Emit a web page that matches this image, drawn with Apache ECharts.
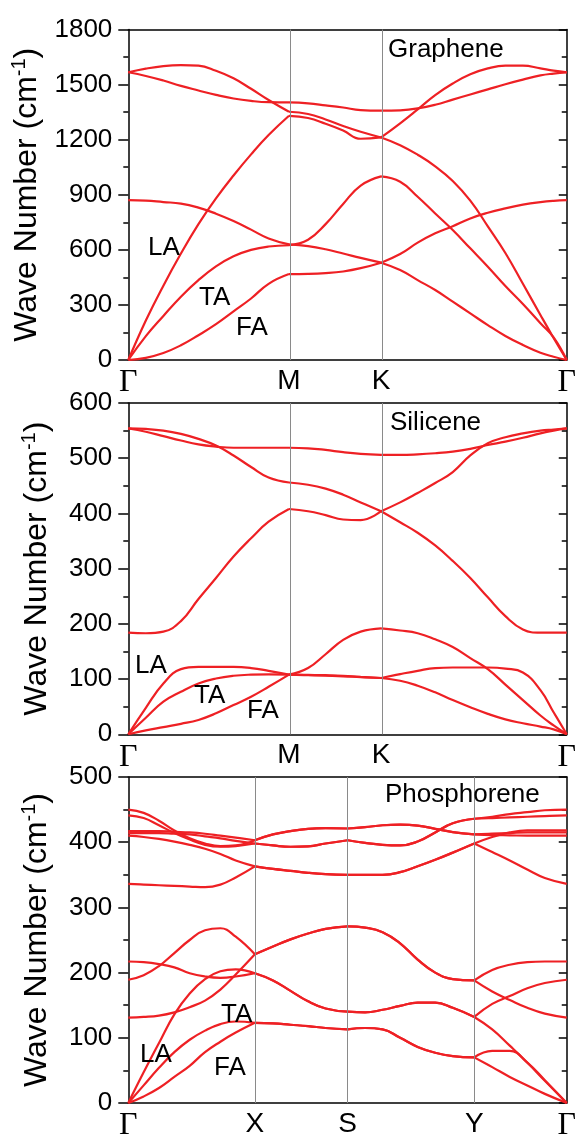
<!DOCTYPE html>
<html>
<head>
<meta charset="utf-8">
<script src="https://cdn.jsdelivr.net/npm/echarts@6/dist/echarts.min.js"></script>
<style>
  html, body { margin: 0; padding: 0; background: #fff; }
  #chart { width: 579px; height: 1142px; }
</style>
</head>
<body>
<div id="chart"></div>
<script>
// high symmetry points (fraction of path) and their labels
const hexKx = [0, 0.3665, 0.5766, 1];
const hexKLabels = ['Γ', 'M', 'K', 'Γ'];
const phosKx = [0, 0.2887, 0.5004, 0.789, 1];
const phosKLabels = ['Γ', 'X', 'S', 'Y', 'Γ'];

// sample positions along the path
const hexX = [0, 0.04, 0.08, 0.12, 0.16, 0.20, 0.24, 0.28, 0.32, 0.3665,
  0.41, 0.45, 0.49, 0.53, 0.5766,
  0.62, 0.66, 0.70, 0.74, 0.78, 0.82, 0.86, 0.90, 0.94, 0.97, 1];
const hexBreaks = [0, 9, 14, 25];
const phosX = [0, 0.035, 0.07, 0.105, 0.14, 0.175, 0.21, 0.245, 0.2887,
  0.33, 0.37, 0.41, 0.45, 0.5004,
  0.54, 0.58, 0.62, 0.66, 0.70, 0.74, 0.789,
  0.83, 0.87, 0.91, 0.95, 1];
const phosBreaks = [0, 8, 13, 20, 25];

// graphene bands (cm-1)
const grapheneFA = [0, 12, 38, 80, 135, 195, 265, 335, 415, 468,
  469, 473, 482, 500, 530,
  577, 639, 690, 729, 771, 802, 826, 846, 860, 867, 871];
const grapheneTA = [0, 130, 240, 345, 435, 510, 565, 600, 618, 625,
  655, 740, 850, 950, 1000,
  971, 889, 798, 708, 608, 508, 403, 305, 200, 123, 0];
const grapheneLA = [0, 215, 405, 580, 740, 880, 1005, 1120, 1225, 1330,
  1318, 1287, 1250, 1205, 1212,
  1289, 1365, 1443, 1506, 1556, 1588, 1603, 1603, 1588, 1576, 1567];
const grapheneZO = [871, 868, 860, 852, 830, 797, 757, 710, 662, 630,
  620, 603, 580, 556, 530,
  490, 435, 381, 318, 254, 190, 131, 82, 40, 18, 0];
const grapheneTO = [1567, 1587, 1601, 1606, 1603, 1575, 1534, 1477, 1416, 1352,
  1340, 1310, 1274, 1243, 1212,
  1170, 1118, 1055, 975, 868, 728, 583, 415, 245, 120, 0];
const grapheneLO = [1567, 1547, 1522, 1493, 1468, 1444, 1424, 1411, 1404, 1403,
  1398, 1387, 1375, 1361, 1358,
  1360, 1370, 1390, 1418, 1446, 1474, 1502, 1527, 1550, 1560, 1567];

// silicene bands (cm-1)
const siliceneFA = [0, 7, 13, 19, 26, 38, 53, 68, 86, 108,
  120, 145, 171, 186, 192,
  188, 183, 172, 158, 138, 118, 90, 62, 34, 16, 0];
const siliceneTA = [0, 30, 59, 77, 92, 101, 106, 108, 108.5, 108,
  107.5, 107, 106, 104, 102,
  97, 88, 76, 62, 49, 37, 27, 20, 14, 9, 0];
const siliceneLA = [0, 48, 92, 118, 122, 122, 122, 120, 115, 108,
  107, 106, 105, 103.5, 102,
  109, 115, 120, 121, 121, 121, 119, 112, 80, 40, 0];
const siliceneZO = [184, 183, 186, 205, 245, 283, 322, 355, 385, 408,
  404, 397, 389, 388, 404,
  420, 437, 455, 475, 505, 527, 538, 545, 550, 552, 554];
const siliceneTO = [554, 553, 550, 544, 535, 523, 505, 484, 465, 456,
  452, 445, 434, 420, 404,
  384, 365, 342, 314, 283, 248, 214, 190, 184, 184, 184];
const siliceneLO = [554, 548, 540, 532, 525, 521, 519, 519, 519, 519,
  518, 515, 511, 508, 506,
  506, 507, 509, 512, 517, 524, 530, 537, 545, 550, 554];

// phosphorene bands (cm-1)
const phosFA = [0, 10, 23, 40, 57, 78, 94, 108, 123,
  122, 120, 118, 115, 113,
  115, 113, 100, 86, 77, 72, 70,
  55, 40, 27, 14, 0];
const phosTA = [0, 27, 54, 78, 97, 111, 121, 125, 123,
  122, 120, 118, 115, 113,
  115, 113, 100, 86, 77, 72, 70,
  80, 80, 62, 35, 0];
const phosLA = [0, 47, 92, 136, 168, 190, 202, 205, 199,
  188, 172, 156, 145, 140,
  139, 143, 149, 154, 154, 146, 132,
  113, 88, 62, 34, 0];
const phosO1 = [217, 216, 213, 208, 199, 194, 192, 194, 199,
  188, 172, 156, 145, 140,
  139, 143, 149, 154, 154, 146, 132,
  152, 164, 176, 184, 189];
const phosO2 = [189, 196, 210, 230, 250, 265, 268, 255, 228,
  240, 251, 260, 267, 271,
  269, 262, 245, 220, 200, 190, 188,
  204, 212, 216, 217, 217];
const phosO3 = [131, 132, 134, 139, 147, 157, 174, 197, 228,
  240, 251, 260, 267, 271,
  269, 262, 245, 220, 200, 190, 188,
  171, 158, 146, 137, 131];
const phosO4 = [336, 335, 334, 333, 332, 331, 335, 346, 363,
  359, 356, 353, 351, 350,
  350, 350, 354, 363, 373, 384, 398,
  385, 372, 358, 345, 336];
const phosO5 = [410, 408, 405, 401, 396, 390, 382, 372, 363,
  359, 356, 353, 351, 350,
  350, 350, 354, 363, 373, 384, 398,
  408, 415, 418, 418, 418];
const phosO6 = [414, 414, 414, 413, 412, 409, 406, 402, 398,
  395, 393, 393.5, 398, 403,
  399, 396, 395, 401, 415, 429, 436,
  437, 438, 439, 440, 441];
const phosO7 = [441, 437, 426, 414, 404, 396, 393, 394, 398,
  395, 393, 393.5, 398, 403,
  399, 396, 395, 401, 415, 429, 436,
  439, 443, 446, 449, 450];
const phosO8 = [417, 417, 417, 416, 415, 413, 410, 407, 403,
  412, 417, 420.5, 421.5, 421,
  423, 426, 427, 425.5, 420.5, 415.5, 412,
  413, 414, 415, 415, 415];
const phosO9 = [450, 445, 433, 418, 406, 398, 394, 395, 403,
  412, 417, 420.5, 421.5, 421,
  423, 426, 427, 425.5, 420.5, 415.5, 412,
  411, 410.5, 410, 410, 410];

// y axis ranges
const yMax = [1800, 600, 500];
const yStep = [300, 100, 100];

const red = '#ee2024';
const font = 'Liberation Sans';

function bandSeries(xs, bands, breaks, g) {
  const out = [];
  bands.forEach(b => {
    for (let s = 0; s < breaks.length - 1; s++) {
      const data = [];
      for (let i = breaks[s]; i <= breaks[s + 1]; i++) data.push([xs[i], b[i]]);
      out.push({
        type: 'line', xAxisIndex: g * 2, yAxisIndex: g * 2, data: data,
        smooth: 0.45, showSymbol: false, silent: true, z: 3,
        lineStyle: { color: red, width: 2.2 }
      });
    }
  });
  return out;
}

function guideSeries(kx, g) {
  return {
    type: 'line', xAxisIndex: g * 2, yAxisIndex: g * 2, data: [[0, 0]],
    showSymbol: false, silent: true, z: 1, lineStyle: { opacity: 0 },
    markLine: {
      silent: true, symbol: ['none', 'none'], label: { show: false },
      lineStyle: { color: '#8a8a8a', width: 1, type: 'solid' },
      data: kx.slice(1, -1).map(v => ({ xAxis: v }))
    }
  };
}

const tops = [29.5, 403, 777];
const heights = [330.5, 331.3, 332.3];
const grids = tops.map((t, i) => ({ left: 128.3, width: 441.7, top: t, height: heights[i] }));

const frameLine = { onZero: false, lineStyle: { color: '#000', width: 1.5 } };
const xAxes = [];
const yAxes = [];
[hexKx, hexKx, phosKx].forEach((kx, g) => {
  const labels = g === 2 ? phosKLabels : hexKLabels;
  xAxes.push({
    gridIndex: g, type: 'value', min: 0, max: 1, position: 'bottom',
    axisLine: frameLine,
    axisTick: { show: false }, splitLine: { show: false },
    axisLabel: {
      customValues: kx, margin: 7, color: '#000', fontSize: 28, fontFamily: font,
      formatter: v => {
        const i = kx.findIndex(k => Math.abs(k - v) < 1e-6);
        const t = i < 0 ? '' : labels[i];
        return t === 'Γ' ? '{g|Γ}' : t;
      },
      rich: { g: { fontFamily: 'Liberation Serif', fontSize: 32, color: '#000' } }
    }
  });
  xAxes.push({
    gridIndex: g, type: 'value', min: 0, max: 1, position: 'top',
    axisLine: frameLine,
    axisTick: { show: false }, axisLabel: { show: false }, splitLine: { show: false }
  });
  yAxes.push({
    gridIndex: g, type: 'value', min: 0, max: yMax[g], interval: yStep[g], position: 'left',
    axisLine: Object.assign({ show: true }, frameLine),
    axisTick: { show: true, inside: false, length: 10, lineStyle: { color: '#000', width: 1.5 } },
    minorTick: { show: true, splitNumber: 2, length: 5, lineStyle: { color: '#000', width: 1.5 } },
    splitLine: { show: false },
    axisLabel: { color: '#000', fontSize: 26, fontFamily: font, margin: 16, formatter: v => String(v) },
    name: 'Wave Number (cm{sup|-1})', nameLocation: 'middle', nameGap: 73,
    nameTextStyle: {
      color: '#000', fontSize: 32, fontFamily: font,
      rich: { sup: { fontSize: 20, fontFamily: font, color: '#000', padding: [0, 0, 16, 0] } }
    }
  });
  yAxes.push({
    gridIndex: g, type: 'value', min: 0, max: yMax[g], interval: yStep[g], position: 'right',
    axisLine: Object.assign({ show: true }, frameLine),
    axisTick: { show: true, inside: true, length: 8, lineStyle: { color: '#000', width: 1.5 } },
    minorTick: { show: true, splitNumber: 2, length: 5, lineStyle: { color: '#000', width: 1.5 } },
    splitLine: { show: false }, axisLabel: { show: false }
  });
});

function label(text, left, top) {
  return { type: 'text', left: left, top: top, z: 10,
    style: { text: text, fill: '#000', fontSize: 26, fontFamily: font } };
}

const series = [].concat(
  guideSeries(hexKx, 0),
  bandSeries(hexX, [grapheneFA, grapheneTA, grapheneLA, grapheneZO, grapheneTO, grapheneLO], hexBreaks, 0),
  guideSeries(hexKx, 1),
  bandSeries(hexX, [siliceneFA, siliceneTA, siliceneLA, siliceneZO, siliceneTO, siliceneLO], hexBreaks, 1),
  guideSeries(phosKx, 2),
  bandSeries(phosX, [phosFA, phosTA, phosLA, phosO1, phosO2, phosO3, phosO4, phosO5, phosO6, phosO7, phosO8, phosO9], phosBreaks, 2)
);

const myChart = echarts.init(document.getElementById('chart'), null, { renderer: 'canvas' });
const option = {
  backgroundColor: '#fff',
  animation: false,
  grid: grids,
  xAxis: xAxes,
  yAxis: yAxes,
  series: series,
  graphic: [
    label('Graphene', 388, 37),
    label('LA', 148, 235),
    label('TA', 199, 285),
    label('FA', 236, 315),
    label('Silicene', 390, 410),
    label('LA', 135, 653),
    label('TA', 194, 683),
    label('FA', 247, 698),
    label('Phosphorene', 385, 782),
    label('TA', 221, 1002),
    label('LA', 140, 1042),
    label('FA', 214, 1055)
  ]
};
myChart.setOption(option);
</script>
</body>
</html>
